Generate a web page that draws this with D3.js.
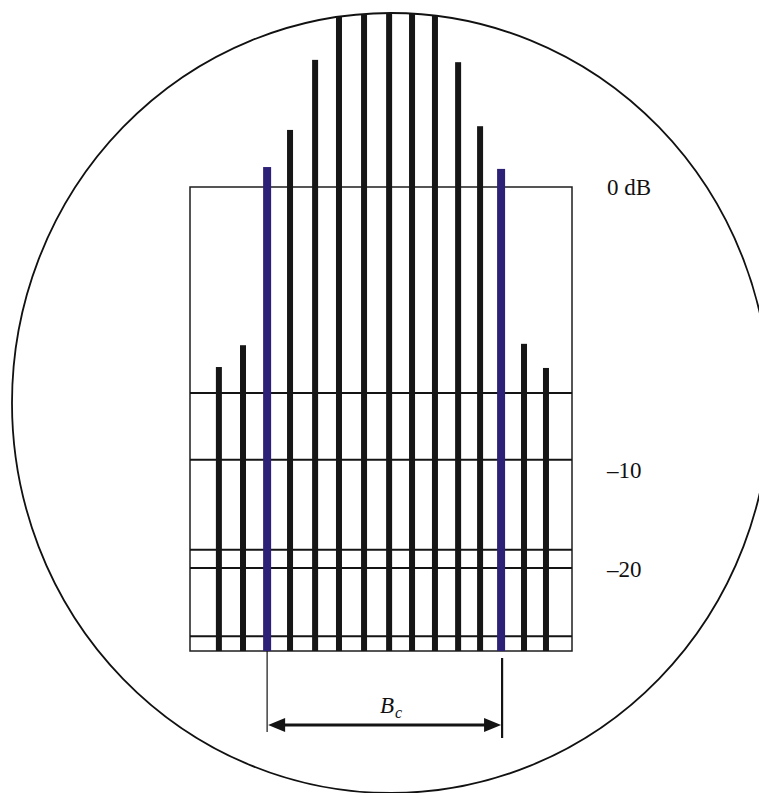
<!DOCTYPE html>
<meta charset="utf-8">
<style>
body { margin: 0; background: #fff; }
.frame { fill: none; stroke: #1e1e1e; stroke-width: 1.5px; }
.grid line { stroke: #141414; stroke-width: 2px; }
.spec { fill: #161616; }
.spec.edge { fill: #2c2176; }
.dim { stroke: #141414; fill: none; }
.lbl text { font-family: "Liberation Serif", "DejaVu Serif", serif; font-size: 23px; fill: #111; }
</style>
<svg width="759" height="793"></svg>
<script src="https://d3js.org/d3.v7.min.js"></script>
<script>

// spectral lines: frequency offset (line spacings) and level (% of the 0 dB level)
var lineFreq  = [-6.79, -5.78, -4.77, -3.81, -2.76, -1.76, -0.71, 0.34, 1.30, 2.26, 3.23, 4.15, 5.03, 5.99, 6.91];
var lineLevel = [61.2, 65.9, 104.3, 112.3, 127.4, 150, 150, 150, 150, 150, 126.9, 113.1, 103.9, 66.2, 61.0];
var edgeLines = [2, 12];   // the two lines that bound Bc

// horizontal reference levels drawn across the box
var gridLevels = [55.6, 41.2, 21.8, 17.9, 3.2];

// level labels on the right
var dbLabels = ["0 dB", "\u201310", "\u201320"];
var dbLabelLevels = [100, 38.9, 17.6];

var svg = d3.select("svg");

var x = d3.scaleLinear().domain([-8, 8]).range([190, 572]);
var y = d3.scaleLinear().domain([0, 100]).range([651, 187]);

// outer ellipse
var ell = {cx: 391, cy: 403, rx: 379, ry: 390};

svg.append("clipPath").attr("id", "clip")
  .append("ellipse")
    .attr("cx", ell.cx).attr("cy", ell.cy).attr("rx", ell.rx).attr("ry", ell.ry);

svg.append("ellipse")
    .attr("cx", ell.cx).attr("cy", ell.cy).attr("rx", ell.rx).attr("ry", ell.ry)
    .attr("fill", "none").attr("stroke", "#111").attr("stroke-width", 1.8);

// box
svg.append("rect").attr("class", "frame")
    .attr("x", x(-8)).attr("y", y(100))
    .attr("width", x(8) - x(-8)).attr("height", y(0) - y(100));

// grid lines
svg.append("g").attr("class", "grid")
  .selectAll("line").data(gridLevels).enter().append("line")
    .attr("x1", x(-8)).attr("x2", x(8))
    .attr("y1", function(d) { return y(d); })
    .attr("y2", function(d) { return y(d); });

// spectral lines
var lines = lineFreq.map(function(f, i) {
  return {f: f, v: lineLevel[i], edge: edgeLines.indexOf(i) >= 0};
});

svg.append("g").attr("clip-path", "url(#clip)")
  .selectAll("rect").data(lines).enter().append("rect")
    .attr("class", function(d) { return d.edge ? "spec edge" : "spec"; })
    .attr("x", function(d) { return x(d.f) - (d.edge ? 4 : 3); })
    .attr("width", function(d) { return d.edge ? 8 : 6; })
    .attr("y", function(d) { return y(d.v); })
    .attr("height", function(d) { return y(0) - y(d.v); });

// level labels
var yAxis = d3.axisRight(y)
    .tickValues(dbLabelLevels)
    .tickFormat(function(d, i) { return dbLabels[i]; })
    .tickSize(0)
    .tickPadding(35);

var ax = svg.append("g").attr("class", "lbl")
    .attr("transform", "translate(" + x(8) + ",0)")
    .call(yAxis);
ax.select(".domain").remove();
ax.attr("font-family", null).attr("font-size", null);

// Bc dimension
var xl = x(lineFreq[edgeLines[0]]), xr = x(lineFreq[edgeLines[1]]);
var ay = 725;

svg.append("line").attr("class", "dim")
    .attr("x1", xl).attr("x2", xl).attr("y1", y(0)).attr("y2", 732)
    .attr("stroke-width", 1.2);
svg.append("line").attr("class", "dim")
    .attr("x1", xr + 1).attr("x2", xr + 1).attr("y1", 658).attr("y2", 738)
    .attr("stroke-width", 2.2);
svg.append("line").attr("class", "dim")
    .attr("x1", xl + 10).attr("x2", xr - 10).attr("y1", ay).attr("y2", ay)
    .attr("stroke-width", 3);

svg.append("path").attr("fill", "#141414")
    .attr("d", "M" + (xl + 1) + "," + ay + "L" + (xl + 18) + "," + (ay - 7) +
               "L" + (xl + 18) + "," + (ay + 7) + "Z");
svg.append("path").attr("fill", "#141414")
    .attr("d", "M" + (xr) + "," + ay + "L" + (xr - 17) + "," + (ay - 7) +
               "L" + (xr - 17) + "," + (ay + 7) + "Z");

var bc = svg.append("text")
    .attr("x", 380).attr("y", 713)
    .attr("font-family", "Liberation Serif, serif")
    .attr("font-style", "italic")
    .attr("font-size", 23)
    .attr("fill", "#111");
bc.append("tspan").text("B");
bc.append("tspan").attr("font-size", 16).attr("dy", 5).attr("dx", 1).text("c");

</script>
